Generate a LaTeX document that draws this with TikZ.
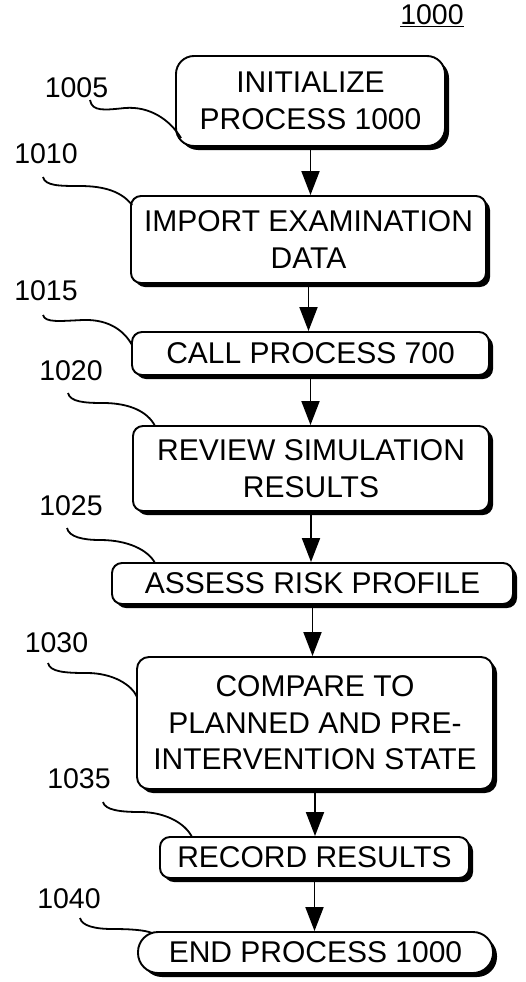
\documentclass[tikz,border=0pt]{standalone}
\usepackage{fontspec}
\setmainfont{Liberation Sans}
\usetikzlibrary{arrows.meta,shadows}
\begin{document}
\begin{tikzpicture}[x=1pt,y=-1pt,
  procbox/.style={draw=black, line width=1.9pt, fill=white, rounded corners=10pt,
    align=center, inner sep=0pt, font=\fontsize{30}{36.5}\selectfont,
    drop shadow={shadow xshift=4pt, shadow yshift=-4pt, fill=black, opacity=1}},
  reflabel/.style={font=\fontsize{28.5}{30}\selectfont, inner sep=0pt, anchor=base},
  flow/.style={line width=1.9pt, -{Triangle[length=24pt,width=18pt]}},
  leader/.style={line width=1.8pt}]
\useasboundingbox (0,0) rectangle (525,982);

\node[procbox, rounded corners=18pt, minimum width=269pt, minimum height=90pt] (b1) at (310.5,101) {INITIALIZE\\PROCESS 1000};
\node[procbox, minimum width=355pt, minimum height=87pt] (b2) at (308.5,239.5) {IMPORT EXAMINATION\\DATA};
\node[procbox, minimum width=357pt, minimum height=43pt] (b3) at (310.5,353.5) {CALL PROCESS 700};
\node[procbox, minimum width=356pt, minimum height=85pt] (b4) at (311,468.5) {REVIEW SIMULATION\\RESULTS};
\node[procbox, minimum width=401pt, minimum height=41pt] (b5) at (312.5,583.5) {ASSESS RISK PROFILE};
\node[procbox, rounded corners=12pt, minimum width=356pt, minimum height=132pt] (b6) at (315,723) {COMPARE TO\\PLANNED AND PRE-\\INTERVENTION STATE};
\node[procbox, minimum width=309pt, minimum height=41pt] (b7) at (314.5,857.5) {RECORD RESULTS};
\node[procbox, rounded corners=20pt, minimum width=355pt, minimum height=41pt] (b8) at (315.5,952.5) {END PROCESS 1000};

\draw[flow] (b1.south) -- (b1.south |- b2.north);
\draw[flow] (b2.south) -- (b2.south |- b3.north);
\draw[flow] (b3.south) -- (b3.south |- b4.north);
\draw[flow] (b4.south) -- (b4.south |- b5.north);
\draw[flow] (b5.south) -- (b5.south |- b6.north);
\draw[flow] (b6.south) -- (b6.south |- b7.north);
\draw[flow] (b7.south) -- (b7.south |- b8.north);

\node[reflabel] (l1000) at (432,25) {\underline{1000}};
\node[reflabel] (l1005) at (76.5,97) {1005};
\node[reflabel] (l1010) at (46,163) {1010};
\node[reflabel] (l1015) at (46,300) {1015};
\node[reflabel] (l1020) at (71,380) {1020};
\node[reflabel] (l1025) at (71,515) {1025};
\node[reflabel] (l1030) at (56.5,652) {1030};
\node[reflabel] (l1035) at (79,788) {1035};
\node[reflabel] (l1040) at (69,908) {1040};

\coordinate (s1005) at (90,100);
\coordinate (s1010) at (43,177);
\coordinate (s1015) at (43,315);
\coordinate (s1020) at (68,393);
\coordinate (s1025) at (67,528);
\coordinate (s1030) at (48,663);
\coordinate (s1035) at (103,802);
\coordinate (s1040) at (80,918);

\draw[leader] (s1005) .. controls (92,112) and (105,110) .. (125,108) .. controls (150,106) and (170,120) .. (181,138);
\draw[leader] (s1010) .. controls (45,186) and (60,186) .. (80,186) .. controls (105,186) and (122,192) .. (132,205);
\draw[leader] (s1015) .. controls (45,323) and (60,321) .. (83,320) .. controls (110,319) and (125,332) .. (132,345);
\draw[leader] (s1020) .. controls (70,402) and (85,403) .. (103,403) .. controls (130,403) and (148,412) .. (155,426);
\draw[leader] (s1025) .. controls (69,537) and (83,540) .. (100,540) .. controls (128,540) and (148,550) .. (155,563);
\draw[leader] (s1030) .. controls (50,672) and (65,673) .. (87,673) .. controls (113,673) and (132,685) .. (137,697);
\draw[leader] (s1035) .. controls (105,810) and (120,812) .. (140,812) .. controls (165,812) and (185,823) .. (192,837);
\draw[leader] (s1040) .. controls (82,926) and (95,929) .. (113,929) .. controls (130,929) and (145,930) .. (152,933);
\end{tikzpicture}
\end{document}
